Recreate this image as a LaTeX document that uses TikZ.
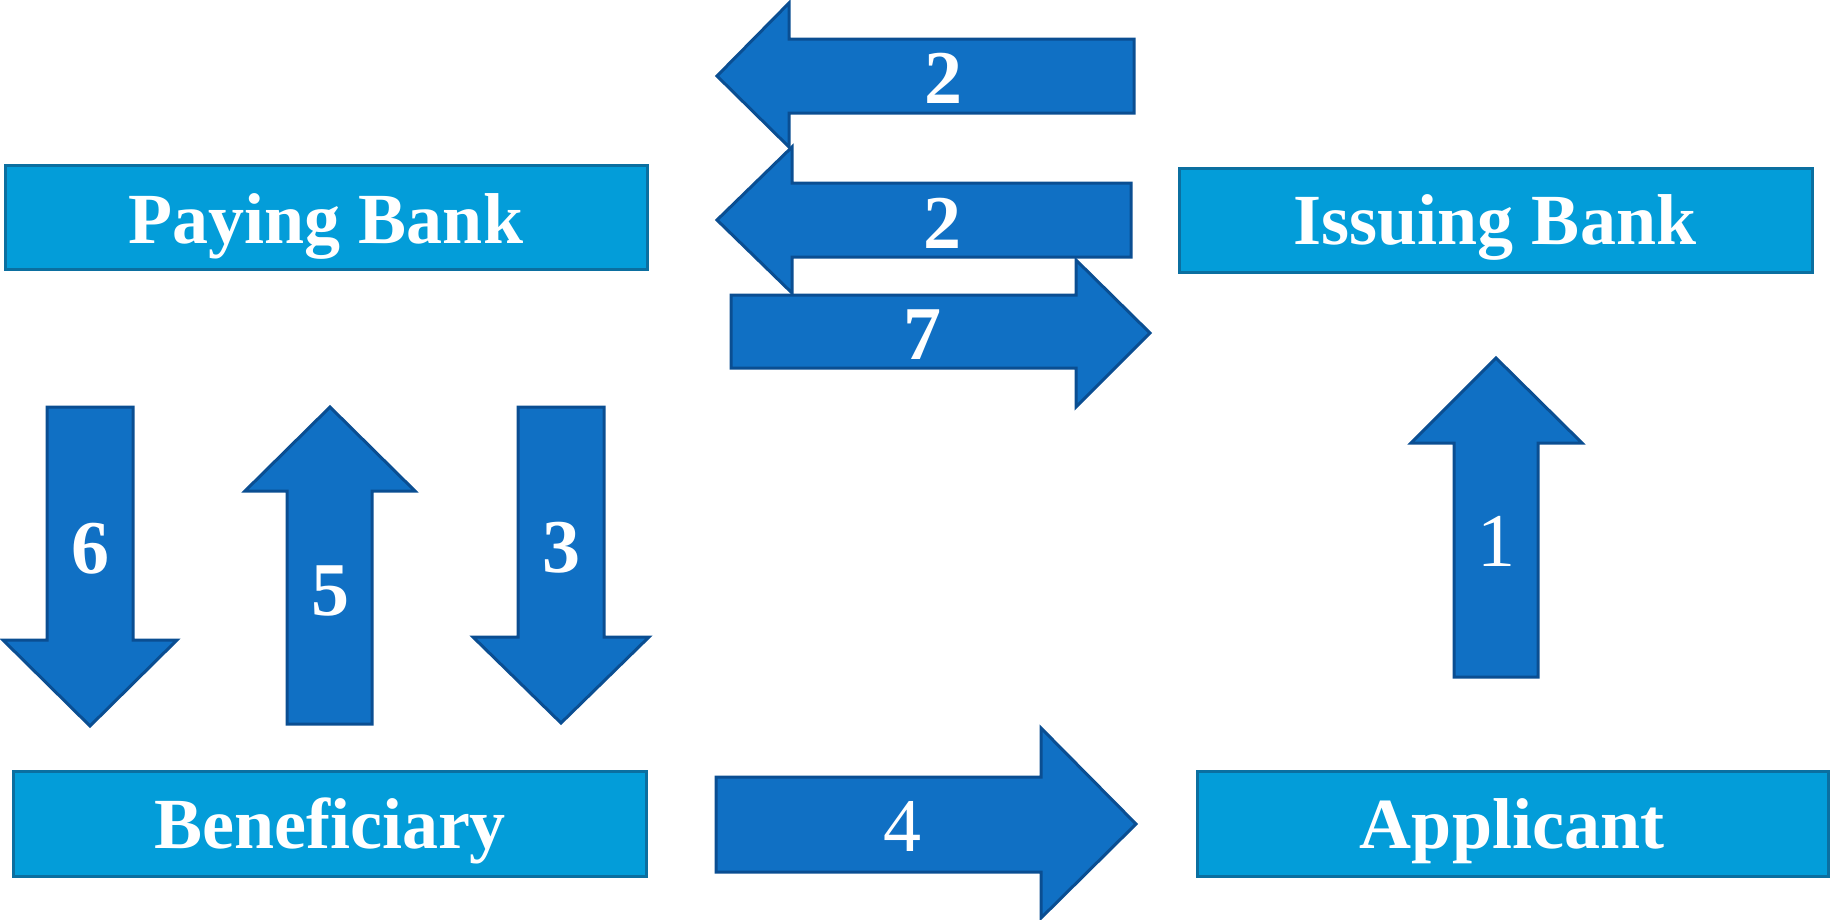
\documentclass[tikz,border=0pt]{standalone}
\usepackage{fontspec}
\setmainfont{Liberation Serif}
\definecolor{boxfill}{HTML}{039DD9}
\definecolor{boxline}{HTML}{0B6FA0}
\definecolor{arrfill}{HTML}{1070C4}
\definecolor{arrline}{HTML}{0A4E92}
\tikzset{
  party/.style={draw=boxline, fill=boxfill, line width=3pt},
  partytext/.style={anchor=base, text=white, font=\fontsize{72}{72}\selectfont\bfseries, inner sep=0pt},
  blockarrow/.style={draw=arrline, fill=arrfill, line width=3pt, line join=miter},
  steptext/.style={anchor=base, text=white, font=\fontsize{76}{76}\selectfont\bfseries, inner sep=0pt},
  steptextlight/.style={anchor=base, text=white, font=\fontsize{76}{76}\selectfont, inner sep=0pt}
}
\begin{document}
\begin{tikzpicture}[x=1pt,y=-1pt]
\useasboundingbox (0,0) rectangle (1830,919);
% party boxes
\draw[party] (5,165) rectangle (647,269);
\node[partytext] (paying) at (326,243) {Paying Bank};
\draw[party] (1179,168) rectangle (1812,272);
\node[partytext] (issuing) at (1495,244) {Issuing Bank};
\draw[party] (13,771) rectangle (646,876);
\node[partytext] (beneficiary) at (330,848) {Beneficiary};
\draw[party] (1197,771) rectangle (1828,876);
\node[partytext] (applicant) at (1512,848) {Applicant};
% block arrows
\draw[blockarrow] (717,76) -- (789,3) -- (789,39) -- (1134,39) -- (1134,113) -- (789,113) -- (789,147) -- cycle;
\node[steptext] (s2a) at (943,103) {2};
\draw[blockarrow] (717,220) -- (792,147) -- (792,183) -- (1131,183) -- (1131,257) -- (792,257) -- (792,293) -- cycle;
\node[steptext] (s2b) at (942,248) {2};
\draw[blockarrow] (731,295) -- (1076,295) -- (1076,260) -- (1150,333) -- (1076,407) -- (1076,368) -- (731,368) -- cycle;
\node[steptext] (s7) at (922,359) {7};
\draw[blockarrow] (47,407) -- (133,407) -- (133,640) -- (177,640) -- (90,726) -- (3,640) -- (47,640) -- cycle;
\node[steptext] (s6) at (90,573) {6};
\draw[blockarrow] (330,407) -- (415,491) -- (372,491) -- (372,724) -- (287,724) -- (287,491) -- (245,491) -- cycle;
\node[steptext] (s5) at (330,615) {5};
\draw[blockarrow] (518,407) -- (604,407) -- (604,637) -- (649,637) -- (561,723) -- (473,637) -- (518,637) -- cycle;
\node[steptext] (s3) at (561,572) {3};
\draw[blockarrow] (1496,358) -- (1582,443) -- (1538,443) -- (1538,677) -- (1454,677) -- (1454,443) -- (1411,443) -- cycle;
\node[steptextlight] (s1) at (1496,566) {1};
\draw[blockarrow] (716,777) -- (1041,777) -- (1041,728) -- (1136,824) -- (1041,918) -- (1041,872) -- (716,872) -- cycle;
\node[steptextlight] (s4) at (902,851) {4};
\end{tikzpicture}
\end{document}
